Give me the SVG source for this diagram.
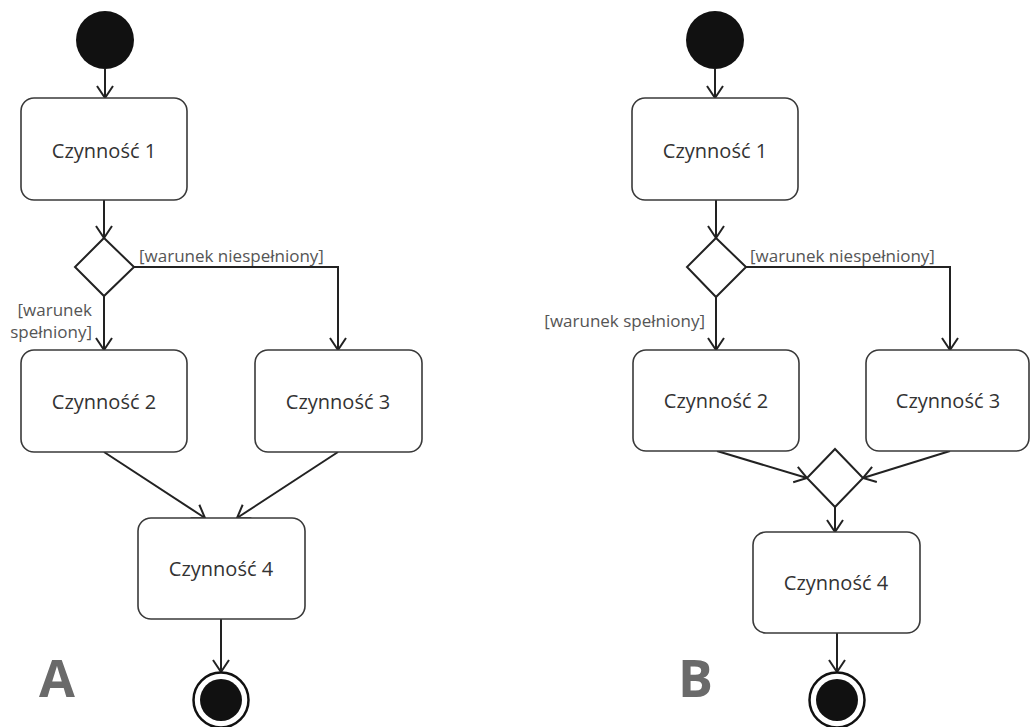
<svg xmlns="http://www.w3.org/2000/svg" width="1030" height="727" viewBox="0 0 1030 727">
<defs>
<style>
.box{fill:#fff;stroke:#3a3a3a;stroke-width:1.6}
.dia{fill:#fff;stroke:#222;stroke-width:2}
.start{fill:#111}
.end-o{fill:#fff;stroke:#111;stroke-width:2.5}
.end-i{fill:#111}
.t{font-family:"Open Sans","Liberation Sans",sans-serif;font-size:20px;fill:#333;text-anchor:middle}
.lbl{font-family:"Open Sans","Liberation Sans",sans-serif;font-size:17px;fill:#555}
.big{font-family:"Open Sans","Liberation Sans",sans-serif;font-size:52px;font-weight:bold;fill:#6a6a6a}
.c{fill:none;stroke:#222;stroke-width:2;marker-end:url(#arr)}
</style>
<marker id="arr" markerUnits="userSpaceOnUse" viewBox="-14 -10 16 20" refX="0" refY="0" markerWidth="16" markerHeight="20" orient="auto">
<path d="M-12,-8 L0,0 L-12,8" fill="none" stroke="#222" stroke-width="2"/>
</marker>
</defs>
<rect width="1030" height="727" fill="#fff"/>

<g id="connectors">
<path class="c" d="M105,69 V98"/>
<path class="c" d="M104,200 V238"/>
<path class="c" d="M134,267 H338 V350"/>
<path class="c" d="M104,296 V350"/>
<path class="c" d="M104,452 L205,518"/>
<path class="c" d="M338,452 L237,518"/>
<path class="c" d="M221,619 V672"/>

<path class="c" d="M715,69 V98"/>
<path class="c" d="M716,200 V238"/>
<path class="c" d="M746,267 H950 V350"/>
<path class="c" d="M716,297 V350"/>
<path class="c" d="M717,451 L807,478"/>
<path class="c" d="M950,451 L863,478"/>
<path class="c" d="M835,507 V532"/>
<path class="c" d="M837,633 V672"/>
</g>

<g id="A-start"><circle class="start" cx="105" cy="40" r="29"/></g>
<g id="A-act1"><rect class="box" x="21" y="98" width="166" height="102" rx="13"/><text class="t" x="104" y="158">Czynność 1</text></g>
<g id="A-decision"><polygon class="dia" points="104,238 134,267 104,296 75,267"/></g>
<g id="A-labels">
<text class="lbl" x="139" y="262">[warunek niespełniony]</text>
<text class="lbl" x="92" y="316" text-anchor="end">[warunek</text>
<text class="lbl" x="92" y="338" text-anchor="end">spełniony]</text>
</g>
<g id="A-act2"><rect class="box" x="21" y="350" width="166" height="102" rx="13"/><text class="t" x="104" y="409">Czynność 2</text></g>
<g id="A-act3"><rect class="box" x="255" y="350" width="167" height="102" rx="13"/><text class="t" x="338" y="409">Czynność 3</text></g>
<g id="A-act4"><rect class="box" x="138" y="518" width="167" height="101" rx="13"/><text class="t" x="221" y="576">Czynność 4</text></g>
<g id="A-end"><circle class="end-o" cx="221" cy="700" r="27.5"/><circle class="end-i" cx="221" cy="700" r="21"/></g>
<text class="big" x="39" y="697">A</text>

<g id="B-start"><circle class="start" cx="715" cy="40" r="29"/></g>
<g id="B-act1"><rect class="box" x="632" y="98" width="166" height="102" rx="13"/><text class="t" x="715" y="158">Czynność 1</text></g>
<g id="B-decision"><polygon class="dia" points="716,238 746,267 716,297 687,267"/></g>
<g id="B-labels">
<text class="lbl" x="750" y="262">[warunek niespełniony]</text>
<text class="lbl" x="705" y="327" text-anchor="end">[warunek spełniony]</text>
</g>
<g id="B-act2"><rect class="box" x="633" y="350" width="166" height="101" rx="13"/><text class="t" x="716" y="408">Czynność 2</text></g>
<g id="B-act3"><rect class="box" x="866" y="350" width="163" height="101" rx="13"/><text class="t" x="948" y="408">Czynność 3</text></g>
<g id="B-merge"><polygon class="dia" points="835,449 863,478 835,507 807,478"/></g>
<g id="B-act4"><rect class="box" x="753" y="532" width="167" height="101" rx="13"/><text class="t" x="836" y="590">Czynność 4</text></g>
<g id="B-end"><circle class="end-o" cx="837" cy="700" r="27.5"/><circle class="end-i" cx="837" cy="700" r="21"/></g>
<text class="big" x="678" y="697">B</text>
</svg>
